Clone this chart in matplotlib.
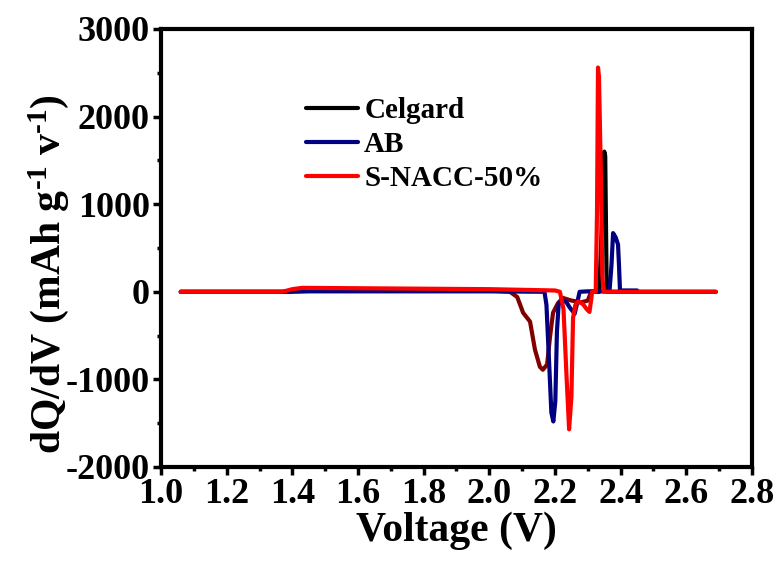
import matplotlib
matplotlib.use("Agg")
import matplotlib.pyplot as plt
from matplotlib.ticker import MultipleLocator

plt.rcParams['font.family'] = ['Liberation Serif', 'DejaVu Serif']
plt.rcParams['font.weight'] = 'bold'
plt.rcParams['mathtext.fontset'] = 'custom'
plt.rcParams['mathtext.rm'] = 'Liberation Serif:bold'
plt.rcParams['mathtext.default'] = 'rm'
plt.rcParams['axes.unicode_minus'] = False

# Celgard, discharge part (drawn dark red in the original)
celgard_dis_v = [1.06, 1.37, 1.43, 2.00, 2.063, 2.085, 2.103, 2.124, 2.139, 2.154,
                 2.163, 2.176, 2.185, 2.194, 2.209, 2.224, 2.25, 2.28, 2.30, 2.31]
celgard_dis_q = [0, 0, 20, 15, 0, -60, -240, -340, -660, -856,
                 -890, -830, -510, -240, -130, -70, -100, -120, -100, 0]
# Celgard, charge part
celgard_chg_v = [2.31, 2.335, 2.345, 2.350, 2.353, 2.357, 2.36, 2.69]
celgard_chg_q = [0, 0, 1000, 1600, 1550, 200, 0, 0]

ab_v = [1.06, 1.40, 1.45, 2.00, 2.168, 2.174, 2.182, 2.189, 2.195, 2.201, 2.206, 2.211,
        2.22, 2.235, 2.245, 2.26, 2.268, 2.275, 2.30, 2.366, 2.372, 2.377, 2.385,
        2.392, 2.395, 2.398, 2.45]
ab_q = [0, 0, 5, 5, 0, -150, -800, -1380, -1480, -1250, -450, -150,
        -90, -120, -180, -250, -120, 0, 5, 5, 300, 670, 620,
        540, 300, 15, 15]

snacc_v = [1.06, 1.37, 1.40, 1.43, 2.00, 2.20, 2.215, 2.226, 2.235, 2.243, 2.25, 2.255,
           2.262, 2.27, 2.285, 2.297, 2.305, 2.31, 2.313, 2.324, 2.328, 2.331,
           2.334, 2.340, 2.344, 2.348, 2.69]
snacc_q = [0, 0, 30, 45, 30, 15, 0, -200, -950, -1570, -1200, -300,
           -150, -110, -140, -200, -230, -100, 0, 0, 900, 2560,
           2450, 1300, 200, 0, 0]

fig = plt.figure(figsize=(7.82, 5.64), dpi=100)
ax = fig.add_axes([0.2059, 0.172, 0.7557, 0.7766])

lw = 3.0
kw = dict(lw=lw, solid_capstyle='round', solid_joinstyle='round')
ax.plot(celgard_dis_v, celgard_dis_q, color='#800000', **kw)
ax.plot(celgard_chg_v, celgard_chg_q, color='black', label='Celgard', **kw)
ax.plot(ab_v, ab_q, color='#000080', label='AB', **kw)
ax.plot(snacc_v, snacc_q, color='#ff0000', label='S-NACC-50%', **kw)

ax.set_xlim(1.0, 2.8)
ax.set_ylim(-2000, 3000)
ax.xaxis.set_major_locator(MultipleLocator(0.2))
ax.xaxis.set_minor_locator(MultipleLocator(0.1))
ax.yaxis.set_major_locator(MultipleLocator(1000))
ax.yaxis.set_minor_locator(MultipleLocator(500))
ax.xaxis.set_major_formatter(plt.FuncFormatter(lambda v, p: f"{v:.1f}"))

for s in ax.spines.values():
    s.set_linewidth(3)
ax.tick_params(which='major', direction='out', length=6, width=2.5, labelsize=26, pad=2)
ax.tick_params(which='minor', direction='out', length=3, width=2.5)

ax.set_xlabel('Voltage (V)', fontsize=30, fontweight='bold', labelpad=0)
ax.set_ylabel('dQ/dV (mAh g$^{\\text{-1}}$ v$^{\\text{-1}}$)', fontsize=30, fontweight='bold')
ax.yaxis.set_label_coords(-0.152, 0.44)

ax.legend(loc='upper left', bbox_to_anchor=(0.245, 0.845), frameon=False,
          fontsize=21, handlelength=1.8, handletextpad=0.2, labelspacing=0.25,
          borderpad=0, borderaxespad=0)

fig.savefig('out.png', dpi=100)
